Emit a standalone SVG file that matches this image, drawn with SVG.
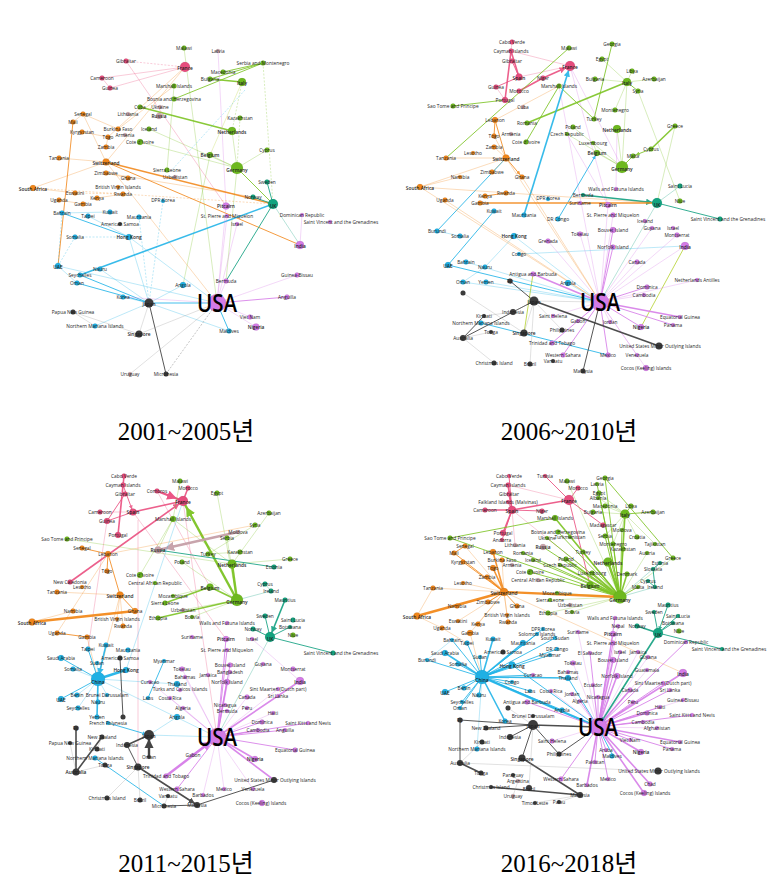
<svg xmlns="http://www.w3.org/2000/svg" width="781" height="884" viewBox="0 0 781 884">
<style>
text{font-family:"Open Sans","Noto Sans",sans-serif;font-size:4.8px;fill:#1e1e1e;text-anchor:middle}
.b{font-weight:600}
.cap{font-family:"Liberation Serif","Noto Sans CJK KR",serif;font-size:25px;fill:#000}
.usa{font-size:25px;font-weight:600;fill:#000}
circle{stroke:#000;stroke-opacity:.2;stroke-width:.3}
.P{fill:#e64d7d}.G{fill:#6db81e}.O{fill:#f0861a}.B{fill:#1fb0e4}.T{fill:#13a37f}.V{fill:#d47be6}.K{fill:#3c3c3c}.R{fill:#c9a3ab}
.e{fill:none;stroke-width:.6;opacity:.5}
.w1{stroke-width:1;opacity:.85}.w2{stroke-width:1.6;opacity:.9}.w3{stroke-width:2.4;opacity:.95}
.d{stroke-dasharray:2 1.5}
.cP{stroke:#ea4f80}.cG{stroke:#7cc324}.cO{stroke:#f28a1e}.cB{stroke:#22b4e8}.cT{stroke:#12a080}.cV{stroke:#d67de8}.cK{stroke:#3a3a3a}.cR{stroke:#c6a0a8}.cY{stroke:#b8d43a}.cL{stroke:#9a9a9a}
.aP{marker-end:url(#mP)}.aG{marker-end:url(#mG)}.aO{marker-end:url(#mO)}.aB{marker-end:url(#mB)}.aT{marker-end:url(#mT)}.aV{marker-end:url(#mV)}.aK{marker-end:url(#mK)}.aR{marker-end:url(#mR)}
</style>
<defs>
<marker id="mP" viewBox="0 0 10 10" refX="17" refY="5" markerWidth="4" markerHeight="4" orient="auto"><path d="M0 0L10 5L0 10z" fill="#ea4f80"/></marker>
<marker id="mG" viewBox="0 0 10 10" refX="17" refY="5" markerWidth="4" markerHeight="4" orient="auto"><path d="M0 0L10 5L0 10z" fill="#7cc324"/></marker>
<marker id="mO" viewBox="0 0 10 10" refX="17" refY="5" markerWidth="4" markerHeight="4" orient="auto"><path d="M0 0L10 5L0 10z" fill="#f28a1e"/></marker>
<marker id="mB" viewBox="0 0 10 10" refX="17" refY="5" markerWidth="4" markerHeight="4" orient="auto"><path d="M0 0L10 5L0 10z" fill="#22b4e8"/></marker>
<marker id="mT" viewBox="0 0 10 10" refX="17" refY="5" markerWidth="4" markerHeight="4" orient="auto"><path d="M0 0L10 5L0 10z" fill="#12a080"/></marker>
<marker id="mV" viewBox="0 0 10 10" refX="17" refY="5" markerWidth="4" markerHeight="4" orient="auto"><path d="M0 0L10 5L0 10z" fill="#d67de8"/></marker>
<marker id="mK" viewBox="0 0 10 10" refX="14" refY="5" markerWidth="4" markerHeight="4" orient="auto"><path d="M0 0L10 5L0 10z" fill="#3a3a3a"/></marker>
<marker id="mR" viewBox="0 0 10 10" refX="17" refY="5" markerWidth="4" markerHeight="4" orient="auto"><path d="M0 0L10 5L0 10z" fill="#c6a0a8"/></marker>
</defs>
<rect width="781" height="884" fill="#fff"/>

<g id="connectors">
<g id="a-edges">
<path class="e cG w1" d="M210 79L263 63M223 72L263 63M174 99L263 63M237 168L273 204"/>
<path class="e cG w2" d="M140 107L232 131M210 79L242 82"/>
<path class="e cG" d="M184 48L217 303M149 129L237 168M140 142L237 168M232 131L237 168M210 155L237 168M267 150L237 168M237 168L226 281M210 155L183 285M174 86L167 170"/>
<path class="e cG d" d="M242 82L232 131M240 118L237 168M263 63L273 204"/>
<path class="e cY" d="M242 82L210 155"/>
<path class="e cP d" d="M126 61L185 67"/>
<path class="e cP" d="M102 78L185 67M126 61L226 206M185 67L110 88M110 88L102 78"/>
<path class="e cV" d="M218 51L226 206"/>
<path class="e cO" d="M185 67L108 137M185 67L106 162M174 86L118 129M83 114L106 162M83 114L118 129M82 132L108 137M33 188L106 162M59 200L83 204M106 173L128 178M108 137L106 147M106 162L217 303M59 158L106 162M106 173L253 197M97 198L123 194M75 193L33 188M83 114L73 122"/>
<path class="e cO d" d="M33 188L273 204M75 193L123 194"/>
<path class="e cO w2" d="M106 162L273 204"/>
<path class="e cO w1" d="M106 162L300 245M73 122L58 266"/>
<path class="e cB w2" d="M80 275L273 204"/>
<path class="e cB w1" d="M62 213L129 237M149 303L217 303M77 283L149 303M80 275L149 303M217 303L229 331"/>
<path class="e cB" d="M88 216L129 237M129 237L217 303M129 237L149 303M100 269L149 303M123 297L149 303M149 303L229 331M183 285L149 303M95 326L149 303M58 266L217 303M110 212L62 213M58 266L77 283"/>
<path class="e cB d" d="M75 237L58 266M62 213L58 266M139 217L149 303M75 237L129 237M163 201L149 303M245 90L170 172"/>
<path class="e cT w1" d="M273 204L226 281M267 182L273 204M253 197L273 204"/>
<path class="e cT" d="M273 204L300 245"/>
<path class="e cV w1" d="M217 303L287 297"/>
<path class="e cV" d="M217 303L297 275M217 303L250 317M217 303L256 327M226 206L217 303M302 215L300 245M227 216L217 303M237 224L217 303M226 281L217 303M123 297L217 303"/>
<path class="e cK w1" d="M149 303L166 374"/>
<path class="e cK d" d="M166 374L217 303"/>
<path class="e cL" d="M139 334L149 303M73 312L139 334M130 374L217 303M139 334L217 303M73 312L95 326"/>
</g>

<g id="b-edges">
<path class="e cP w2" d="M511 51L519 77M511 51L505 100M519 91L543 78"/>
<path class="e cP w2 aP" d="M543 78L570 66"/>
<path class="e cP w1" d="M512 61L519 77M496 87L519 77"/>
<path class="e cP" d="M512 42L511 51M511 51L570 66M519 77L570 66M505 100L496 87"/>
<path class="e cV" d="M570 66L622 167M570 66L608 205M559 86L600 302"/>
<path class="e cG w1" d="M453 106L505 100M569 48L446 158M612 44L594 119M627 82L638 91M633 156L622 167M559 86L594 119M559 86L526 142"/>
<path class="e cG w2" d="M527 123L627 82M675 126L651 149"/>
<path class="e cG w1 aG" d="M651 149L633 156"/>
<path class="e cG" d="M638 91L680 201M602 59L627 82M632 71L627 82M654 79L627 82M595 79L627 82M617 129L622 167M597 153L622 167M593 143L597 153M573 127L622 167M627 82L622 167M615 110L627 82M675 126L657 203M567 134L622 167"/>
<path class="e cY w1" d="M641 327L685 246M524 333L533 274"/>
<path class="e cB w2 aB" d="M524 215L570 66"/>
<path class="e cB w1 aB" d="M437 231L506 158M448 265L494 211M558 219L597 153"/>
<path class="e cB w1" d="M448 265L600 302M481 323L608 355"/>
<path class="e cB" d="M466 262L600 302M463 282L600 302M486 282L600 302M514 236L600 302M568 283L600 302M460 236L437 231M519 254L685 246M485 267L463 282M514 236L485 267"/>
<path class="e cT w2 aT" d="M583 195L657 203"/>
<path class="e cT w1" d="M657 203L720 219"/>
<path class="e cT" d="M680 186L657 203M657 203L600 302"/>
<path class="e cO w2" d="M480 203L657 203"/>
<path class="e cO w1" d="M485 196L506 193M506 158L495 120M495 120L494 136"/>
<path class="e cO w1 aO" d="M506 158L522 177"/>
<path class="e cO" d="M420 187L600 302M420 187L506 158M445 200L600 302M492 172L506 158M420 187L657 203M494 136L506 158M494 147L506 158M506 158L600 302M522 177L600 302M446 158L506 158M460 177L420 187M495 120L559 86"/>
<path class="e cV w2" d="M600 302L680 317M533 274L600 302"/>
<path class="e cV w1" d="M600 302L673 325M600 302L641 327M600 302L647 287M600 302L552 343M600 302L563 355M600 302L608 355M600 302L613 247M600 302L613 230"/>
<path class="e cV" d="M600 302L644 295M600 302L697 280M600 302L553 316M600 302L578 321M600 302L610 322M600 302L608 205M600 302L613 215M600 302L580 234M600 302L548 241M600 302L637 262M600 302L677 235M600 302L685 246M600 302L652 228M600 302L637 355M600 302L646 368M608 205L567 134M616 189L617 129"/>
<path class="e cK w2" d="M534 301L659 346"/>
<path class="e cK w1 aK" d="M510 281L534 301M583 371L600 302"/>
<path class="e cK w1" d="M534 301L463 338M463 338L484 316"/>
<path class="e cL" d="M534 301L513 312M513 312L484 316M562 330L534 301M524 333L534 301M463 293L524 333M494 363L463 338M530 364L534 301M491 332L463 338M534 301L600 302"/>
</g>

<g id="c-edges">
<path class="e cP w2" d="M124 476L118 535M123 485L118 535M188 488L183 501M133 512L183 501"/>
<path class="e cP w3 aP" d="M157 491L183 501"/>
<path class="e cP w2 aP" d="M70 582L183 501"/>
<path class="e cP w1 aP" d="M125 494L107 521M123 485L133 512"/>
<path class="e cP w1" d="M107 521L133 512"/>
<path class="e cP" d="M100 512L133 512M138 520L138 767M133 512L226 639M183 501L217 737M157 491L210 587M107 521L88 649"/>
<path class="e cG w3 aG" d="M237 600L183 501"/>
<path class="e cG w3" d="M232 564L237 600"/>
<path class="e cG w2" d="M237 600L210 587M165 603L210 587M158 618L237 600"/>
<path class="e cG" d="M173 519L158 550M173 519L140 575M217 493L237 600M67 539L232 564M173 519L232 564M269 513L232 564M180 481L173 519M255 525L208 554M240 552L208 554M290 559L232 564M182 562L237 600M173 596L210 587M227 538L237 600M192 617L237 600M183 610L237 600"/>
<path class="e cR w3 aR" d="M238 532L158 550"/>
<path class="e cT w1" d="M158 550L274 567M265 616L270 637M270 637L333 653M290 627L270 637M253 629L270 637"/>
<path class="e cT w2 aT" d="M285 600L270 637"/>
<path class="e cT" d="M270 637L217 737M271 591L265 584M237 600L271 591"/>
<path class="e cO w3" d="M32 622L135 611"/>
<path class="e cO w1" d="M120 595L135 611M120 595L108 554M82 548L108 554M108 554L107 571M57 633L87 637"/>
<path class="e cO" d="M255 525L108 554M87 637L98 679M120 595L117 619M123 626L120 595M57 592L120 595M120 595L98 679M73 611L32 622M108 554L57 633"/>
<path class="e cB w3" d="M126 670L98 679"/>
<path class="e cB w2 aB" d="M106 645L98 679"/>
<path class="e cB w2" d="M97 717L98 679"/>
<path class="e cB w1" d="M88 649L98 679M61 658L98 679M61 699L98 679M164 661L148 698M95 758L164 806"/>
<path class="e cB w1 aB" d="M108 723L149 735"/>
<path class="e cB" d="M73 669L98 679M77 695L98 679M98 702L98 679M107 695L98 679M78 708L98 679M97 663L98 679M177 684L98 679M183 501L126 670M98 679L217 737M149 735L217 737M177 717L149 735"/>
<path class="e cV w3 aV" d="M166 776L217 737"/>
<path class="e cV w2" d="M193 755L217 737M255 759L217 737M300 681L217 737M227 682L217 737"/>
<path class="e cV w2 aV" d="M274 780L217 737"/>
<path class="e cV w1" d="M177 789L217 737M262 722L217 737M308 723L217 737M258 730L217 737M285 730L217 737M295 750L217 737M226 639L217 737M227 650L217 737M230 665L217 737"/>
<path class="e cV" d="M230 672L217 737M247 697L217 737M183 708L217 737M224 789L217 737M253 789L217 737M252 639L300 681M182 669L217 737M185 677L217 737M150 682L217 737M170 698L217 737M203 795L217 737M278 689L217 737M273 713L217 737"/>
<path class="e cK w2 aK" d="M76 728L76 772M102 737L76 772M127 745L149 735M138 767L197 805"/>
<path class="e cK w3 aK" d="M149 757L149 735"/>
<path class="e cK w1" d="M197 805L274 780M164 806L197 805M138 767L127 745M120 658L123 717"/>
<path class="e cL" d="M105 765L76 772M97 749L102 737M107 798L138 767M140 800L138 767M168 796L164 806M70 743L76 772"/>
</g>

<g id="d-edges">
<path class="e cP w2" d="M503 533L512 510M485 510L512 510M509 494L512 510M508 485L512 510M512 510L569 500"/>
<path class="e cP w1" d="M502 540L512 510M508 502L512 510M509 476L512 510M542 511L512 510M569 500L545 476M569 500L603 525M578 488L569 500M569 500L590 585"/>
<path class="e cP" d="M515 545L512 510M569 500L508 485M512 510L620 597"/>
<path class="e cG w3" d="M608 562L620 597M590 585L620 597"/>
<path class="e cG w2" d="M592 573L620 597M566 559L620 597M560 565L620 597M625 514L620 597M555 518L620 597M627 574L620 597"/>
<path class="e cG w1" d="M583 552L620 597M543 547L620 597M605 536L620 597M605 478L620 597M597 484L620 597M599 493L620 597M558 532L620 597M547 538L620 597M533 560L620 597M530 572L620 597M450 538L620 597M523 553L620 597M638 587L620 597M623 549L620 597M613 544L620 597M622 530L620 597M605 478L673 558M631 506L625 514M653 512L625 514M450 538L555 518"/>
<path class="e cG" d="M673 558L620 597M647 553L620 597M637 537L625 514M598 498L625 514M605 506L625 514M599 493L625 514M605 536L625 514M613 544L625 514M622 530L625 514M557 593L620 597M550 600L620 597M548 613L620 597M572 612L620 597M593 512L625 514M655 544L625 514M570 537L620 597M567 481L620 597"/>
<path class="e cT w1" d="M660 563L653 569M653 569L655 587M648 581L655 587M673 623L658 633M678 616L658 633M658 633L722 649M654 612L658 633"/>
<path class="e cT w1 aT" d="M668 605L658 633"/>
<path class="e cT w2 aT" d="M637 626L658 633M658 633L598 727"/>
<path class="e cT" d="M620 597L660 563M620 597L655 587"/>
<path class="e cO w3" d="M417 616L504 592M504 592L620 597"/>
<path class="e cO w2" d="M493 552L504 592M493 568L504 592M487 577L504 592"/>
<path class="e cO w1" d="M517 606L504 592M488 602L504 592M463 562L504 592M454 553L465 546M454 553L504 592"/>
<path class="e cO" d="M465 546L504 592M433 588L504 592M457 606L504 592M507 615L504 592M508 622L504 592M478 624L504 592M470 633L504 592M458 621L504 592M502 560L504 592M463 583L504 592M417 616L442 628M433 588L417 616M442 628L467 643M470 633L482 677M504 592L683 673"/>
<path class="e cB w3" d="M512 665L482 677M482 677L598 727"/>
<path class="e cB w2" d="M493 639L482 677M445 653L482 677M523 643L482 677M568 678L482 677M505 721L482 677"/>
<path class="e cB w1" d="M467 643L482 677M427 660L482 677M458 664L482 677M445 692L482 677M464 688L482 677M479 695L482 677M462 702L482 677M460 708L482 677M543 629L482 677M537 634L482 677M550 655L482 677M557 649L482 677M533 675L482 677M512 682L482 677M452 640L482 677M480 657L482 677M530 691L482 677M555 638L482 677M562 710L482 677M568 678L598 727M512 665L598 727M612 754L598 727"/>
<path class="e cB" d="M477 749L482 677M452 640L427 660"/>
<path class="e cV w2" d="M613 660L598 727M617 676L598 727M630 690L598 727M647 713L598 727M680 742L598 727M641 752L598 727M587 785L598 727M650 784L598 727M644 793L598 727M683 673L598 727"/>
<path class="e cV w1" d="M613 634L598 727M613 643L598 727M598 697L598 727M633 702L598 727M580 701L598 727M527 702L598 727M692 715L598 727M643 722L598 727M630 740L598 727M672 749L598 727M606 750L598 727M595 761L598 727M608 779L598 727M561 779L598 727M620 652L598 727M663 683L598 727M670 690L598 727M660 707L598 727M590 653L598 727M615 618L598 727M686 642L598 727"/>
<path class="e cV" d="M573 663L598 727M647 670L598 727M593 685L598 727M572 694L598 727M551 691L598 727M657 728L598 727M552 741L598 727M638 652L598 727M648 657L598 727M683 700L598 727M578 632L598 727M618 626L598 727"/>
<path class="e cK w2" d="M533 725L598 727M522 758L580 795M491 787L580 795M460 763L481 773"/>
<path class="e cK w1" d="M460 720L460 763M533 725L559 754M559 754L598 727M533 725L510 737M486 728L533 725M460 720L533 725M522 758L533 725"/>
<path class="e cL" d="M533 725L529 788M460 763L658 771M513 775L518 781M518 781L513 796M535 803L580 795M559 802L580 795M482 742L460 763M508 708L533 725"/>
</g>
</g>

<g id="panel-2001-2005">
<g id="a-malawi"><circle class="G" cx="184" cy="48" r="2.5"/><text x="184" y="49.7">Malawi</text></g>
<g id="a-latvia"><circle class="R" cx="218" cy="51" r="2"/><text x="218" y="52.7">Latvia</text></g>
<g id="a-france"><circle class="P" cx="185" cy="67" r="5"/><text x="185" y="70.3" font-size="9.5" class="b">France</text></g>
<g id="a-gibraltar"><circle class="P" cx="126" cy="61" r="2.5"/><text x="126" y="62.7">Gibraltar</text></g>
<g id="a-serbia"><circle class="G" cx="263" cy="63" r="2.5"/><text x="263" y="64.7">Serbia and Montenegro</text></g>
<g id="a-macedonia"><circle class="G" cx="223" cy="72" r="2.5"/><text x="223" y="73.7">Macedonia</text></g>
<g id="a-bulgaria"><circle class="G" cx="210" cy="79" r="2.5"/><text x="210" y="80.7">Bulgaria</text></g>
<g id="a-italy"><circle class="G" cx="242" cy="82" r="4"/><text x="242" y="84.8" font-size="8" class="b">Italy</text></g>
<g id="a-cameroon"><circle class="P" cx="102" cy="78" r="2.5"/><text x="102" y="79.7">Cameroon</text></g>
<g id="a-guinea"><circle class="P" cx="110" cy="88" r="2.5"/><text x="110" y="89.7">Guinea</text></g>
<g id="a-marshall"><circle class="G" cx="174" cy="86" r="2.5"/><text x="174" y="87.7">Marshall Islands</text></g>
<g id="a-bosnia"><circle class="G" cx="174" cy="99" r="2.5"/><text x="174" y="100.7">Bosnia and Herzegovina</text></g>
<g id="a-cuba"><circle class="G" cx="140" cy="107" r="2.5"/><text x="140" y="108.7">Cuba</text></g>
<g id="a-ukraine"><circle class="R" cx="160" cy="107" r="2"/><text x="160" y="108.7">Ukraine</text></g>
<g id="a-lithuania"><circle class="R" cx="128" cy="114" r="2"/><text x="128" y="115.7">Lithuania</text></g>
<g id="a-russia"><circle class="R" cx="159" cy="116" r="3"/><text x="159" y="118.3" font-size="6.5" class="b">Russia</text></g>
<g id="a-senegal"><circle class="O" cx="83" cy="114" r="2.5"/><text x="83" y="115.7">Senegal</text></g>
<g id="a-mali"><circle class="O" cx="73" cy="122" r="2.5"/><text x="73" y="123.7">Mali</text></g>
<g id="a-kyrgyzstan"><circle class="O" cx="82" cy="132" r="2.5"/><text x="82" y="133.7">Kyrgyzstan</text></g>
<g id="a-burkina"><circle class="O" cx="118" cy="129" r="2.5"/><text x="118" y="130.7">Burkina Faso</text></g>
<g id="a-armenia"><circle class="R" cx="125" cy="135" r="2"/><text x="125" y="136.7">Armenia</text></g>
<g id="a-iceland"><circle class="G" cx="149" cy="129" r="2.5"/><text x="149" y="130.7">Iceland</text></g>
<g id="a-kazakhstan"><circle class="G" cx="240" cy="118" r="2.5"/><text x="240" y="119.7">Kazakhstan</text></g>
<g id="a-netherlands"><circle class="G" cx="232" cy="131" r="4"/><text x="232" y="134" font-size="8.5" class="b">Netherlands</text></g>
<g id="a-togo"><circle class="O" cx="108" cy="137" r="2.5"/><text x="108" y="139.3" font-size="6.5">Togo</text></g>
<g id="a-cote"><circle class="G" cx="140" cy="142" r="3"/><text x="140" y="144.3" font-size="6.5">Cote d'Ivoire</text></g>
<g id="a-zambia"><circle class="O" cx="106" cy="147" r="2.5"/><text x="106" y="148.7">Zambia</text></g>
<g id="a-cyprus"><circle class="G" cx="267" cy="150" r="2.5"/><text x="267" y="151.7">Cyprus</text></g>
<g id="a-tanzania"><circle class="O" cx="59" cy="158" r="2.5"/><text x="59" y="159.7">Tanzania</text></g>
<g id="a-switzerland"><circle class="O" cx="106" cy="162" r="3.5"/><text x="106" y="165" font-size="8.5" class="b">Switzerland</text></g>
<g id="a-belgium"><circle class="G" cx="210" cy="155" r="3"/><text x="210" y="157.3" font-size="6.5" class="b">Belgium</text></g>
<g id="a-germany"><circle class="G" cx="237" cy="168" r="6"/><text x="237" y="172.4" font-size="12.5" class="b">Germany</text></g>
<g id="a-sierra"><circle class="G" cx="167" cy="170" r="2.5"/><text x="167" y="171.7">Sierra Leone</text></g>
<g id="a-uzbekistan"><circle class="R" cx="175" cy="177" r="2"/><text x="175" y="178.7">Uzbekistan</text></g>
<g id="a-zimbabwe"><circle class="O" cx="106" cy="173" r="2.5"/><text x="106" y="174.7">Zimbabwe</text></g>
<g id="a-ghana"><circle class="O" cx="128" cy="178" r="2.5"/><text x="128" y="179.7">Ghana</text></g>
<g id="a-southafrica"><circle class="O" cx="33" cy="188" r="3"/><text x="33" y="190.5" font-size="7" class="b">South Africa</text></g>
<g id="a-bvi"><circle class="O" cx="118" cy="187" r="2"/><text x="118" y="188.7">British Virgin Islands</text></g>
<g id="a-eswatini"><circle class="O" cx="75" cy="193" r="2.5"/><text x="75" y="194.7">Eswatini</text></g>
<g id="a-rwanda"><circle class="O" cx="123" cy="194" r="2.5"/><text x="123" y="196" font-size="5.5">Rwanda</text></g>
<g id="a-uganda"><circle class="O" cx="59" cy="200" r="2.5"/><text x="59" y="201.7">Uganda</text></g>
<g id="a-kenya"><circle class="O" cx="97" cy="198" r="2.5"/><text x="97" y="199.7">Kenya</text></g>
<g id="a-gambia"><circle class="O" cx="83" cy="204" r="2.5"/><text x="83" y="205.7">Gambia</text></g>
<g id="a-dprk"><circle class="B" cx="163" cy="201" r="2"/><text x="163" y="202.4" font-size="4">DPR Korea</text></g>
<g id="a-sweden"><circle class="T" cx="267" cy="182" r="2.5"/><text x="267" y="183.7">Sweden</text></g>
<g id="a-norway"><circle class="T" cx="253" cy="197" r="2.5"/><text x="253" y="198.6" font-size="4.5">Norway</text></g>
<g id="a-uk"><circle class="T" cx="273" cy="204" r="5"/><text x="273" y="208.2" font-size="12" class="b">UK</text></g>
<g id="a-pitcairn"><circle class="V" cx="226" cy="206" r="3.5"/><text x="226" y="208.3" font-size="6.5" class="b">Pitcairn</text></g>
<g id="a-stpierre"><circle class="V" cx="227" cy="216" r="2"/><text x="227" y="218" font-size="5.5">St. Pierre and Miquelon</text></g>
<g id="a-israel"><circle class="V" cx="237" cy="224" r="2"/><text x="237" y="225.6" font-size="4.5">Israel</text></g>
<g id="a-dominicanrep"><circle class="V" cx="302" cy="215" r="2"/><text x="302" y="216.7">Dominican Republic</text></g>
<g id="a-stvincent"><circle class="V" cx="330" cy="222" r="2"/><text x="341" y="224" font-size="5">Saint Vincent and the Grenadines</text></g>
<g id="a-bahrain"><circle class="B" cx="62" cy="213" r="2.5"/><text x="62" y="214.7">Bahrain</text></g>
<g id="a-taipei"><circle class="B" cx="88" cy="216" r="2.5"/><text x="88" y="217.7">Taipei</text></g>
<g id="a-kuwait"><circle class="B" cx="110" cy="212" r="2.5"/><text x="110" y="213.7">Kuwait</text></g>
<g id="a-mauritania"><circle class="B" cx="139" cy="217" r="2.5"/><text x="139" y="218.7">Mauritania</text></g>
<g id="a-amsamoa"><circle class="K" cx="120" cy="224" r="2"/><text x="120" y="225.7">American Samoa</text></g>
<g id="a-somalia"><circle class="B" cx="75" cy="237" r="2.5"/><text x="75" y="238.7">Somalia</text></g>
<g id="a-hongkong"><circle class="B" cx="129" cy="237" r="3"/><text x="129" y="239.3" font-size="6.5" class="b">Hong Kong</text></g>
<g id="a-india"><circle class="V" cx="300" cy="245" r="4"/><text x="300" y="248" font-size="8.5" class="b">India</text></g>
<g id="a-uae"><circle class="B" cx="58" cy="266" r="3"/><text x="58" y="268.5" font-size="7" class="b">UAE</text></g>
<g id="a-nauru"><circle class="B" cx="100" cy="269" r="2.5"/><text x="100" y="270.7">Nauru</text></g>
<g id="a-seychelles"><circle class="B" cx="80" cy="275" r="2.5"/><text x="80" y="276.7">Seychelles</text></g>
<g id="a-oman"><circle class="B" cx="77" cy="283" r="2.5"/><text x="77" y="284.7">Oman</text></g>
<g id="a-angola"><circle class="B" cx="183" cy="285" r="3"/><text x="183" y="287" font-size="5.5">Angola</text></g>
<g id="a-bermuda"><circle class="V" cx="226" cy="281" r="2.5"/><text x="226" y="282.7">Bermuda</text></g>
<g id="a-guineabissau"><circle class="V" cx="297" cy="275" r="2.5"/><text x="297" y="276.7">Guinea-Bissau</text></g>
<g id="a-korea"><circle class="B" cx="123" cy="297" r="2.5"/><text x="123" y="298.7">Korea</text></g>
<g id="a-japan"><circle class="K" cx="149" cy="303" r="4.5"/><text x="149" y="306" font-size="8.5" class="b">Japan</text></g>
<g id="a-usa"><circle class="V" cx="217" cy="303" r="9"/><text x="217" y="312" class="usa" textLength="40" lengthAdjust="spacingAndGlyphs">USA</text></g>
<g id="a-anguilla"><circle class="V" cx="287" cy="297" r="2.5"/><text x="287" y="298.7">Anguilla</text></g>
<g id="a-png"><circle class="K" cx="73" cy="312" r="2.5"/><text x="73" y="313.7">Papua New Guinea</text></g>
<g id="a-vietnam"><circle class="V" cx="250" cy="317" r="2.5"/><text x="250" y="318.7">Viet Nam</text></g>
<g id="a-nigeria"><circle class="V" cx="256" cy="327" r="3.5"/><text x="256" y="329.3" font-size="6.5" class="b">Nigeria</text></g>
<g id="a-maldives"><circle class="B" cx="229" cy="331" r="2.5"/><text x="229" y="332.7">Maldives</text></g>
<g id="a-nmi"><circle class="B" cx="95" cy="326" r="2.5"/><text x="95" y="328" font-size="5.5">Northern Mariana Islands</text></g>
<g id="a-singapore"><circle class="K" cx="139" cy="334" r="3.5"/><text x="139" y="336.3" font-size="6.5" class="b">Singapore</text></g>
<g id="a-uruguay"><circle class="R" cx="130" cy="374" r="2"/><text x="130" y="375.7">Uruguay</text></g>
<g id="a-micronesia"><circle class="K" cx="166" cy="374" r="2.5"/><text x="166" y="375.7">Micronesia</text></g>
</g>

<g id="panel-2006-2010">
<g id="b-caboverde"><circle class="P" cx="512" cy="42" r="2.5"/><text x="512" y="43.7">Cabo Verde</text></g>
<g id="b-cayman"><circle class="P" cx="511" cy="51" r="2.5"/><text x="511" y="53" font-size="5.5">Cayman Islands</text></g>
<g id="b-malawi"><circle class="G" cx="569" cy="48" r="2.5"/><text x="569" y="49.7">Malawi</text></g>
<g id="b-georgia"><circle class="G" cx="612" cy="44" r="2.5"/><text x="612" y="45.7">Georgia</text></g>
<g id="b-gibraltar"><circle class="P" cx="512" cy="61" r="2.5"/><text x="512" y="62.7">Gibraltar</text></g>
<g id="b-egypt"><circle class="G" cx="602" cy="59" r="2.5"/><text x="602" y="60.7">Egypt</text></g>
<g id="b-france"><circle class="P" cx="570" cy="66" r="5"/><text x="570" y="69.3" font-size="9.5" class="b">France</text></g>
<g id="b-libya"><circle class="G" cx="632" cy="71" r="2.5"/><text x="632" y="72.7">Libya</text></g>
<g id="b-spain"><circle class="P" cx="519" cy="77" r="3.5"/><text x="519" y="79.5" font-size="7" class="b">Spain</text></g>
<g id="b-niger"><circle class="P" cx="543" cy="78" r="2.5"/><text x="543" y="79.7">Niger</text></g>
<g id="b-bulgaria"><circle class="G" cx="595" cy="79" r="2.5"/><text x="595" y="80.7">Bulgaria</text></g>
<g id="b-azerbaijan"><circle class="G" cx="654" cy="79" r="2.5"/><text x="654" y="80.7">Azerbaijan</text></g>
<g id="b-italy"><circle class="G" cx="627" cy="82" r="4"/><text x="627" y="84.8" font-size="8" class="b">Italy</text></g>
<g id="b-marshall"><circle class="G" cx="559" cy="86" r="2.5"/><text x="559" y="87.7">Marshall Islands</text></g>
<g id="b-guinea"><circle class="P" cx="496" cy="87" r="2.5"/><text x="496" y="88.7">Guinea</text></g>
<g id="b-morocco"><circle class="P" cx="519" cy="91" r="2.5"/><text x="519" y="92.7">Morocco</text></g>
<g id="b-syria"><circle class="G" cx="638" cy="91" r="2.5"/><text x="638" y="92.7">Syria</text></g>
<g id="b-portugal"><circle class="P" cx="505" cy="100" r="3"/><text x="505" y="102" font-size="5.5">Portugal</text></g>
<g id="b-saotome"><circle class="G" cx="453" cy="106" r="2.5"/><text x="453" y="107.7">Sao Tome and Principe</text></g>
<g id="b-cuba"><circle class="R" cx="523" cy="107" r="2"/><text x="523" y="108.7">Cuba</text></g>
<g id="b-montenegro"><circle class="G" cx="615" cy="110" r="2.5"/><text x="615" y="111.7">Montenegro</text></g>
<g id="b-turkey"><circle class="G" cx="594" cy="119" r="2.5"/><text x="594" y="121" font-size="5.5">Turkey</text></g>
<g id="b-lebanon"><circle class="O" cx="495" cy="120" r="3"/><text x="495" y="122.1" font-size="6">Lebanon</text></g>
<g id="b-romania"><circle class="G" cx="527" cy="123" r="2.5"/><text x="527" y="124.7">Romania</text></g>
<g id="b-poland"><circle class="G" cx="573" cy="127" r="2.5"/><text x="573" y="128.7">Poland</text></g>
<g id="b-netherlands"><circle class="G" cx="617" cy="129" r="4"/><text x="617" y="132" font-size="8.5" class="b">Netherlands</text></g>
<g id="b-greece"><circle class="G" cx="675" cy="126" r="2.5"/><text x="675" y="127.7">Greece</text></g>
<g id="b-togo"><circle class="O" cx="494" cy="136" r="2.5"/><text x="494" y="137.7">Togo</text></g>
<g id="b-armenia"><circle class="R" cx="511" cy="134" r="2"/><text x="511" y="135.7">Armenia</text></g>
<g id="b-czech"><circle class="G" cx="567" cy="134" r="2"/><text x="567" y="135.7">Czech Republic</text></g>
<g id="b-cote"><circle class="G" cx="526" cy="142" r="2.5"/><text x="526" y="144" font-size="5.5">Cote d'Ivoire</text></g>
<g id="b-zambia"><circle class="O" cx="494" cy="147" r="2.5"/><text x="494" y="148.7">Zambia</text></g>
<g id="b-luxembourg"><circle class="G" cx="593" cy="143" r="2"/><text x="593" y="144.7">Luxembourg</text></g>
<g id="b-lesotho"><circle class="O" cx="473" cy="153" r="2"/><text x="473" y="154.7">Lesotho</text></g>
<g id="b-tanzania"><circle class="O" cx="446" cy="158" r="2.5"/><text x="446" y="159.7">Tanzania</text></g>
<g id="b-switzerland"><circle class="O" cx="506" cy="158" r="3.5"/><text x="506" y="161" font-size="8.5" class="b">Switzerland</text></g>
<g id="b-belgium"><circle class="G" cx="597" cy="153" r="3"/><text x="597" y="155.1" font-size="6" class="b">Belgium</text></g>
<g id="b-malta"><circle class="G" cx="633" cy="156" r="2.5"/><text x="633" y="157.7">Malta</text></g>
<g id="b-cyprus"><circle class="G" cx="651" cy="149" r="2.5"/><text x="651" y="150.7">Cyprus</text></g>
<g id="b-germany"><circle class="G" cx="622" cy="167" r="6"/><text x="622" y="171.4" font-size="12.5" class="b">Germany</text></g>
<g id="b-zimbabwe"><circle class="O" cx="492" cy="172" r="2.5"/><text x="492" y="173.7">Zimbabwe</text></g>
<g id="b-namibia"><circle class="O" cx="460" cy="177" r="2"/><text x="460" y="178.7">Namibia</text></g>
<g id="b-ghana"><circle class="O" cx="522" cy="177" r="2.5"/><text x="522" y="178.7">Ghana</text></g>
<g id="b-southafrica"><circle class="O" cx="420" cy="187" r="3"/><text x="420" y="189.5" font-size="7" class="b">South Africa</text></g>
<g id="b-wallis"><circle class="V" cx="616" cy="189" r="2"/><text x="616" y="191" font-size="5.5">Walls and Futuna Islands</text></g>
<g id="b-saintlucia"><circle class="T" cx="680" cy="186" r="2.5"/><text x="680" y="187.7">Saint Lucia</text></g>
<g id="b-rwanda"><circle class="O" cx="506" cy="193" r="2.5"/><text x="506" y="194.7">Rwanda</text></g>
<g id="b-kenya"><circle class="O" cx="485" cy="196" r="2.5"/><text x="485" y="197.7">Kenya</text></g>
<g id="b-bermuda"><circle class="T" cx="583" cy="195" r="2"/><text x="583" y="196.7">Bermuda</text></g>
<g id="b-uganda"><circle class="O" cx="445" cy="200" r="2.5"/><text x="445" y="201.7">Uganda</text></g>
<g id="b-gambia"><circle class="O" cx="480" cy="203" r="2.5"/><text x="480" y="205" font-size="5.5">Gambia</text></g>
<g id="b-dprk"><circle class="B" cx="548" cy="199" r="2"/><text x="548" y="200.4" font-size="4">DPR Korea</text></g>
<g id="b-suriname"><circle class="V" cx="580" cy="203" r="2"/><text x="580" y="204.7">Suriname</text></g>
<g id="b-pitcairn"><circle class="V" cx="608" cy="205" r="3"/><text x="608" y="207.3" font-size="6.5" class="b">Pitcairn</text></g>
<g id="b-uk"><circle class="T" cx="657" cy="203" r="5"/><text x="657" y="207.2" font-size="12" class="b">UK</text></g>
<g id="b-niue"><circle class="G" cx="680" cy="201" r="2.5"/><text x="680" y="202.7">Niue</text></g>
<g id="b-kuwait"><circle class="B" cx="494" cy="211" r="2.5"/><text x="494" y="212.7">Kuwait</text></g>
<g id="b-mauritania"><circle class="B" cx="524" cy="215" r="2.5"/><text x="524" y="216.7">Mauritania</text></g>
<g id="b-drcongo"><circle class="B" cx="558" cy="219" r="2.5"/><text x="558" y="220.7">DR Congo</text></g>
<g id="b-stpierre"><circle class="V" cx="613" cy="215" r="2.5"/><text x="613" y="217" font-size="5.5">St. Pierre and Miquelon</text></g>
<g id="b-iceland"><circle class="V" cx="645" cy="221" r="2"/><text x="645" y="222.7">Iceland</text></g>
<g id="b-stvincent"><circle class="T" cx="720" cy="219" r="2.5"/><text x="728" y="221" font-size="5.5">Saint Vincent and the Grenadines</text></g>
<g id="b-burundi"><circle class="B" cx="437" cy="231" r="2.5"/><text x="437" y="232.7">Burundi</text></g>
<g id="b-somalia"><circle class="B" cx="460" cy="236" r="2.5"/><text x="460" y="237.7">Somalia</text></g>
<g id="b-hongkong"><circle class="B" cx="514" cy="236" r="3"/><text x="514" y="238.3" font-size="6.5" class="b">Hong Kong</text></g>
<g id="b-grenada"><circle class="V" cx="548" cy="241" r="2.5"/><text x="548" y="242.7">Grenada</text></g>
<g id="b-tokelau"><circle class="V" cx="580" cy="234" r="2.5"/><text x="580" y="235.7">Tokelau</text></g>
<g id="b-bouvet"><circle class="V" cx="613" cy="230" r="3"/><text x="613" y="232" font-size="5.5">Bouvet Island</text></g>
<g id="b-guyana"><circle class="V" cx="652" cy="228" r="2"/><text x="652" y="229.7">Guyana</text></g>
<g id="b-israel"><circle class="V" cx="673" cy="228" r="2"/><text x="673" y="229.7">Israel</text></g>
<g id="b-montserrat"><circle class="V" cx="677" cy="235" r="2.5"/><text x="677" y="236.7">Montserrat</text></g>
<g id="b-norfolk"><circle class="V" cx="613" cy="247" r="2.5"/><text x="613" y="248.8" font-size="5">Norfolk Island</text></g>
<g id="b-india"><circle class="V" cx="685" cy="246" r="4"/><text x="685" y="249" font-size="8.5" class="b">India</text></g>
<g id="b-congo"><circle class="B" cx="519" cy="254" r="2"/><text x="519" y="255.7">Congo</text></g>
<g id="b-canada"><circle class="V" cx="637" cy="262" r="2.5"/><text x="637" y="263.7">Canada</text></g>
<g id="b-uae"><circle class="B" cx="448" cy="265" r="3"/><text x="448" y="267.5" font-size="7" class="b">UAE</text></g>
<g id="b-bahrain"><circle class="B" cx="466" cy="262" r="2.5"/><text x="466" y="263.7">Bahrain</text></g>
<g id="b-nauru"><circle class="B" cx="485" cy="267" r="2.5"/><text x="485" y="268.7">Nauru</text></g>
<g id="b-oman"><circle class="B" cx="463" cy="282" r="2.5"/><text x="463" y="283.7">Oman</text></g>
<g id="b-yemen"><circle class="B" cx="486" cy="282" r="2.5"/><text x="486" y="283.7">Yemen</text></g>
<g id="b-antigua"><circle class="V" cx="533" cy="274" r="2.5"/><text x="533" y="276" font-size="5.5">Antigua and Barbuda</text></g>
<g id="b-fiji"><circle class="K" cx="510" cy="281" r="2.5"/><text x="510" y="282.7">Fiji</text></g>
<g id="b-angola"><circle class="B" cx="568" cy="283" r="3"/><text x="568" y="285" font-size="5.5">Angola</text></g>
<g id="b-node1"><circle class="K" cx="463" cy="293" r="2.5"/></g>
<g id="b-japan"><circle class="K" cx="534" cy="301" r="4.5"/><text x="534" y="304" font-size="8.5" class="b">Japan</text></g>
<g id="b-usa"><circle class="V" cx="600" cy="302" r="9"/><text x="600" y="311" class="usa" textLength="40" lengthAdjust="spacingAndGlyphs">USA</text></g>
<g id="b-dominica"><circle class="V" cx="647" cy="287" r="2.5"/><text x="647" y="289" font-size="5.5">Dominica</text></g>
<g id="b-cambodia"><circle class="V" cx="644" cy="295" r="2"/><text x="644" y="296.7">Cambodia</text></g>
<g id="b-antilles"><circle class="V" cx="697" cy="280" r="2"/><text x="697" y="281.7">Netherlands Antilles</text></g>
<g id="b-indonesia"><circle class="K" cx="513" cy="312" r="3"/><text x="513" y="314" font-size="5.5">Indonesia</text></g>
<g id="b-kiribati"><circle class="K" cx="484" cy="316" r="2"/><text x="484" y="317.7">Kiribati</text></g>
<g id="b-sainthelena"><circle class="V" cx="553" cy="316" r="2"/><text x="553" y="317.7">Saint Helena</text></g>
<g id="b-gabon"><circle class="V" cx="578" cy="321" r="2"/><text x="578" y="322.7">Gabon</text></g>
<g id="b-jordan"><circle class="V" cx="610" cy="322" r="2"/><text x="610" y="323.7">Jordan</text></g>
<g id="b-eqguinea"><circle class="V" cx="680" cy="317" r="2"/><text x="680" y="318.7">Equatorial Guinea</text></g>
<g id="b-panama"><circle class="V" cx="673" cy="325" r="2"/><text x="673" y="326.7">Panama</text></g>
<g id="b-nigeria"><circle class="V" cx="641" cy="327" r="3"/><text x="641" y="329.3" font-size="6.5" class="b">Nigeria</text></g>
<g id="b-nmi"><circle class="B" cx="481" cy="323" r="2.5"/><text x="481" y="325" font-size="5.5">Northern Mariana Islands</text></g>
<g id="b-tonga"><circle class="K" cx="491" cy="332" r="2"/><text x="491" y="333.7">Tonga</text></g>
<g id="b-philippines"><circle class="K" cx="562" cy="330" r="2.5"/><text x="562" y="331.7">Philippines</text></g>
<g id="b-singapore"><circle class="K" cx="524" cy="333" r="3.5"/><text x="524" y="335.3" font-size="6.5" class="b">Singapore</text></g>
<g id="b-australia"><circle class="K" cx="463" cy="338" r="3"/><text x="463" y="340" font-size="5.5">Australia</text></g>
<g id="b-trinidad"><circle class="V" cx="552" cy="343" r="2.5"/><text x="552" y="345" font-size="5.5">Trinidad and Tobago</text></g>
<g id="b-usmoi"><circle class="K" cx="659" cy="346" r="3.5"/><text x="660" y="348.1" font-size="6">United States Minor Outlying Islands</text></g>
<g id="b-wsahara"><circle class="V" cx="563" cy="355" r="2.5"/><text x="563" y="357" font-size="5.5">Western Sahara</text></g>
<g id="b-mexico"><circle class="V" cx="608" cy="355" r="2.5"/><text x="608" y="356.7">Mexico</text></g>
<g id="b-venezuela"><circle class="V" cx="637" cy="355" r="2"/><text x="637" y="356.7">Venezuela</text></g>
<g id="b-christmas"><circle class="K" cx="494" cy="363" r="2.5"/><text x="494" y="364.7">Christmas Island</text></g>
<g id="b-brazil"><circle class="K" cx="530" cy="364" r="2.5"/><text x="530" y="366" font-size="5.5">Brazil</text></g>
<g id="b-vanuatu"><circle class="K" cx="553" cy="361" r="2"/><text x="553" y="362.7">Vanuatu</text></g>
<g id="b-malaysia"><circle class="K" cx="583" cy="371" r="2.5"/><text x="583" y="373" font-size="5.5">Malaysia</text></g>
<g id="b-cocos"><circle class="V" cx="646" cy="368" r="3"/><text x="646" y="370" font-size="5.5">Cocos (Keeling) Islands</text></g>
</g>

<g id="panel-2011-2015">
<g id="c-caboverde"><circle class="P" cx="124" cy="476" r="2.5"/><text x="124" y="477.7">Cabo Verde</text></g>
<g id="c-cayman"><circle class="P" cx="123" cy="485" r="2.5"/><text x="123" y="487" font-size="5.5">Cayman Islands</text></g>
<g id="c-malawi"><circle class="G" cx="180" cy="481" r="2.5"/><text x="180" y="482.7">Malawi</text></g>
<g id="c-morocco"><circle class="P" cx="188" cy="488" r="2.5"/><text x="188" y="489.7">Morocco</text></g>
<g id="c-comoros"><circle class="P" cx="157" cy="491" r="2.5"/><text x="157" y="492.7">Comoros</text></g>
<g id="c-egypt"><circle class="G" cx="217" cy="493" r="2.5"/><text x="217" y="494.7">Egypt</text></g>
<g id="c-gibraltar"><circle class="P" cx="125" cy="494" r="2.5"/><text x="125" y="495.7">Gibraltar</text></g>
<g id="c-france"><circle class="P" cx="183" cy="501" r="5"/><text x="183" y="504.3" font-size="9.5" class="b">France</text></g>
<g id="c-cameroon"><circle class="P" cx="100" cy="512" r="2.5"/><text x="100" y="513.7">Cameroon</text></g>
<g id="c-spain"><circle class="P" cx="133" cy="512" r="3.5"/><text x="133" y="514.1" font-size="6" class="b">Spain</text></g>
<g id="c-guinea"><circle class="P" cx="107" cy="521" r="3"/><text x="107" y="523.1" font-size="6">Guinea</text></g>
<g id="c-marshall"><circle class="G" cx="173" cy="519" r="3"/><text x="173" y="521" font-size="5.5">Marshall Islands</text></g>
<g id="c-azerbaijan"><circle class="G" cx="269" cy="513" r="2.5"/><text x="269" y="514.7">Azerbaijan</text></g>
<g id="c-syria"><circle class="G" cx="255" cy="525" r="2.5"/><text x="255" y="526.7">Syria</text></g>
<g id="c-moldova"><circle class="R" cx="238" cy="532" r="2"/><text x="238" y="533.7">Moldova</text></g>
<g id="c-portugal"><circle class="P" cx="118" cy="535" r="3"/><text x="118" y="537" font-size="5.5">Portugal</text></g>
<g id="c-serbia"><circle class="G" cx="227" cy="538" r="2.5"/><text x="227" y="539.7">Serbia</text></g>
<g id="c-saotome"><circle class="G" cx="67" cy="539" r="2.5"/><text x="67" y="540.7">Sao Tome and Principe</text></g>
<g id="c-senegal"><circle class="O" cx="82" cy="548" r="2.5"/><text x="82" y="549.7">Senegal</text></g>
<g id="c-russia"><circle class="R" cx="158" cy="550" r="3.5"/><text x="158" y="552.3" font-size="6.5" class="b">Russia</text></g>
<g id="c-kazakhstan"><circle class="G" cx="240" cy="552" r="2.5"/><text x="240" y="553.7">Kazakhstan</text></g>
<g id="c-turkey"><circle class="G" cx="208" cy="554" r="2.5"/><text x="208" y="556" font-size="5.5">Turkey</text></g>
<g id="c-lebanon"><circle class="O" cx="108" cy="554" r="3"/><text x="108" y="556.1" font-size="6">Lebanon</text></g>
<g id="c-greece"><circle class="G" cx="290" cy="559" r="2.5"/><text x="290" y="560.7">Greece</text></g>
<g id="c-poland"><circle class="G" cx="182" cy="562" r="2.5"/><text x="182" y="563.7">Poland</text></g>
<g id="c-netherlands"><circle class="G" cx="232" cy="564" r="4.5"/><text x="232" y="567" font-size="8.5" class="b">Netherlands</text></g>
<g id="c-estonia"><circle class="T" cx="274" cy="567" r="2.5"/><text x="274" y="568.7">Estonia</text></g>
<g id="c-togo"><circle class="O" cx="107" cy="571" r="2.5"/><text x="107" y="573" font-size="5.5">Togo</text></g>
<g id="c-cote"><circle class="G" cx="140" cy="575" r="3"/><text x="140" y="577.1" font-size="6">Cote d'Ivoire</text></g>
<g id="c-newcaledonia"><circle class="P" cx="70" cy="582" r="2.5"/><text x="70" y="583.7">New Caledonia</text></g>
<g id="c-lesotho"><circle class="O" cx="82" cy="587" r="2"/><text x="82" y="588.7">Lesotho</text></g>
<g id="c-car"><circle class="G" cx="155" cy="583" r="2"/><text x="155" y="584.6" font-size="4.5">Central African Republic</text></g>
<g id="c-belgium"><circle class="G" cx="210" cy="587" r="3.5"/><text x="210" y="589.5" font-size="7" class="b">Belgium</text></g>
<g id="c-cyprus"><circle class="T" cx="265" cy="584" r="2.5"/><text x="265" y="586" font-size="5.5">Cyprus</text></g>
<g id="c-ireland"><circle class="T" cx="271" cy="591" r="2.5"/><text x="271" y="592.7">Ireland</text></g>
<g id="c-tanzania"><circle class="O" cx="57" cy="592" r="2.5"/><text x="57" y="593.7">Tanzania</text></g>
<g id="c-switzerland"><circle class="O" cx="120" cy="595" r="3.5"/><text x="120" y="598" font-size="8.5" class="b">Switzerland</text></g>
<g id="c-germany"><circle class="G" cx="237" cy="600" r="6"/><text x="237" y="604.4" font-size="12.5" class="b">Germany</text></g>
<g id="c-mozambique"><circle class="G" cx="173" cy="596" r="2"/><text x="173" y="597.7">Mozambique</text></g>
<g id="c-sierra"><circle class="G" cx="165" cy="603" r="2.5"/><text x="165" y="604.7">Sierra Leone</text></g>
<g id="c-mauritius"><circle class="T" cx="285" cy="600" r="2.5"/><text x="285" y="601.7">Mauritius</text></g>
<g id="c-namibia"><circle class="O" cx="73" cy="611" r="2.5"/><text x="73" y="612.7">Namibia</text></g>
<g id="c-ghana"><circle class="O" cx="135" cy="611" r="3"/><text x="135" y="613" font-size="5.5">Ghana</text></g>
<g id="c-uzbekistan"><circle class="R" cx="183" cy="610" r="2"/><text x="183" y="611.7">Uzbekistan</text></g>
<g id="c-southafrica"><circle class="O" cx="32" cy="622" r="3.5"/><text x="32" y="624.5" font-size="7" class="b">South Africa</text></g>
<g id="c-bvi"><circle class="O" cx="117" cy="619" r="2"/><text x="117" y="620.7">British Virgin Islands</text></g>
<g id="c-bolivia"><circle class="G" cx="192" cy="617" r="2"/><text x="192" y="618.7">Bolivia</text></g>
<g id="c-ethiopia"><circle class="G" cx="158" cy="618" r="2.5"/><text x="158" y="619.7">Ethiopia</text></g>
<g id="c-sweden"><circle class="T" cx="265" cy="616" r="2.5"/><text x="265" y="617.7">Sweden</text></g>
<g id="c-saintlucia"><circle class="T" cx="293" cy="620" r="2.5"/><text x="293" y="621.7">Saint Lucia</text></g>
<g id="c-botswana"><circle class="T" cx="290" cy="627" r="2"/><text x="290" y="628.7">Botswana</text></g>
<g id="c-wallis"><circle class="V" cx="227" cy="623" r="2"/><text x="227" y="624.8" font-size="5">Walls and Futuna Islands</text></g>
<g id="c-rwanda"><circle class="O" cx="123" cy="626" r="2.5"/><text x="123" y="627.7">Rwanda</text></g>
<g id="c-norway"><circle class="T" cx="253" cy="629" r="2.5"/><text x="253" y="630.7">Norway</text></g>
<g id="c-uganda"><circle class="O" cx="57" cy="633" r="2.5"/><text x="57" y="634.7">Uganda</text></g>
<g id="c-niue"><circle class="G" cx="293" cy="635" r="2.5"/><text x="293" y="636.7">Niue</text></g>
<g id="c-uk"><circle class="T" cx="270" cy="637" r="5"/><text x="270" y="641.2" font-size="12" class="b">UK</text></g>
<g id="c-gambia"><circle class="O" cx="87" cy="637" r="2.5"/><text x="87" y="638.7">Gambia</text></g>
<g id="c-suriname"><circle class="V" cx="192" cy="637" r="2"/><text x="192" y="638.7">Suriname</text></g>
<g id="c-pitcairn"><circle class="V" cx="226" cy="639" r="3"/><text x="226" y="641.3" font-size="6.5" class="b">Pitcairn</text></g>
<g id="c-israel"><circle class="V" cx="252" cy="639" r="2"/><text x="252" y="640.7">Israel</text></g>
<g id="c-kuwait"><circle class="B" cx="106" cy="645" r="2.5"/><text x="106" y="646.7">Kuwait</text></g>
<g id="c-taipei"><circle class="B" cx="88" cy="649" r="2.5"/><text x="88" y="650.7">Taipei</text></g>
<g id="c-mauritania"><circle class="B" cx="128" cy="650" r="2.5"/><text x="128" y="651.7">Mauritania</text></g>
<g id="c-stpierre"><circle class="V" cx="227" cy="650" r="2"/><text x="227" y="652" font-size="5.5">St. Pierre and Miquelon</text></g>
<g id="c-stvincent"><circle class="T" cx="333" cy="653" r="2.5"/><text x="341" y="655" font-size="5.5">Saint Vincent and the Grenadines</text></g>
<g id="c-saudi"><circle class="B" cx="61" cy="658" r="3"/><text x="61" y="660.1" font-size="6">Saudi Arabia</text></g>
<g id="c-sudan"><circle class="B" cx="97" cy="663" r="2"/><text x="97" y="664.7">Sudan</text></g>
<g id="c-amsamoa"><circle class="K" cx="120" cy="658" r="2.5"/><text x="120" y="660" font-size="5.5">American Samoa</text></g>
<g id="c-myanmar"><circle class="B" cx="164" cy="661" r="2"/><text x="164" y="662.7">Myanmar</text></g>
<g id="c-somalia"><circle class="B" cx="73" cy="669" r="2.5"/><text x="73" y="670.7">Somalia</text></g>
<g id="c-hongkong"><circle class="B" cx="126" cy="670" r="3"/><text x="126" y="672.3" font-size="6.5" class="b">Hong Kong</text></g>
<g id="c-tokelau"><circle class="V" cx="182" cy="669" r="2.5"/><text x="182" y="671" font-size="5.5">Tokelau</text></g>
<g id="c-bouvet"><circle class="V" cx="230" cy="665" r="2.5"/><text x="230" y="666.7">Bouvet Island</text></g>
<g id="c-guyana"><circle class="V" cx="263" cy="664" r="2"/><text x="263" y="665.7">Guyana</text></g>
<g id="c-montserrat"><circle class="V" cx="293" cy="669" r="2.5"/><text x="293" y="670.7">Montserrat</text></g>
<g id="c-jamaica"><circle class="V" cx="208" cy="675" r="2"/><text x="208" y="676.7">Jamaica</text></g>
<g id="c-bangladesh"><circle class="V" cx="230" cy="672" r="2"/><text x="230" y="673.7">Bangladesh</text></g>
<g id="c-china"><circle class="B" cx="98" cy="679" r="7"/><text x="98" y="683.6" font-size="13" class="b">China</text></g>
<g id="c-curacao"><circle class="V" cx="150" cy="682" r="2"/><text x="150" y="683.7">Curacao</text></g>
<g id="c-bahamas"><circle class="V" cx="185" cy="677" r="2"/><text x="185" y="678.7">Bahamas</text></g>
<g id="c-thailand"><circle class="B" cx="177" cy="684" r="3"/><text x="177" y="686.1" font-size="6">Thailand</text></g>
<g id="c-norfolk"><circle class="V" cx="227" cy="682" r="3"/><text x="227" y="684.3" font-size="6.5">Norfolk Island</text></g>
<g id="c-india"><circle class="V" cx="300" cy="681" r="4"/><text x="300" y="684" font-size="8.5" class="b">India</text></g>
<g id="c-sintmaarten"><circle class="V" cx="278" cy="689" r="2"/><text x="278" y="690.7">Sint Maarten (Dutch part)</text></g>
<g id="c-srilanka"><circle class="V" cx="278" cy="696" r="2"/><text x="278" y="697.7">Sri Lanka</text></g>
<g id="c-turks"><circle class="V" cx="180" cy="690" r="2"/><text x="180" y="691.4" font-size="4">Turks and Caicos Islands</text></g>
<g id="c-costarica"><circle class="V" cx="170" cy="698" r="2"/><text x="170" y="699.7">Costa Rica</text></g>
<g id="c-laos"><circle class="B" cx="148" cy="698" r="2"/><text x="148" y="699.7">Laos</text></g>
<g id="c-canada"><circle class="V" cx="247" cy="697" r="2.5"/><text x="247" y="699" font-size="5.5">Canada</text></g>
<g id="c-uae"><circle class="B" cx="61" cy="699" r="3"/><text x="61" y="701.5" font-size="7" class="b">UAE</text></g>
<g id="c-benin"><circle class="B" cx="77" cy="695" r="2.5"/><text x="77" y="696.7">Benin</text></g>
<g id="c-brunei"><circle class="B" cx="107" cy="695" r="2"/><text x="107" y="696.6" font-size="4.5">Brunei Darussalam</text></g>
<g id="c-nauru"><circle class="B" cx="98" cy="702" r="2.5"/><text x="98" y="703.7">Nauru</text></g>
<g id="c-seychelles"><circle class="B" cx="78" cy="708" r="2.5"/><text x="78" y="709.7">Seychelles</text></g>
<g id="c-algeria"><circle class="V" cx="183" cy="708" r="2"/><text x="183" y="709.7">Algeria</text></g>
<g id="c-nicaragua"><circle class="V" cx="225" cy="705" r="2"/><text x="225" y="706.7">Nicaragua</text></g>
<g id="c-bermuda"><circle class="V" cx="227" cy="711" r="2"/><text x="227" y="712.7">Bermuda</text></g>
<g id="c-peru"><circle class="V" cx="247" cy="708" r="2"/><text x="247" y="709.7">Peru</text></g>
<g id="c-haiti"><circle class="V" cx="273" cy="713" r="2"/><text x="273" y="714.7">Haiti</text></g>
<g id="c-angola"><circle class="B" cx="177" cy="717" r="3"/><text x="177" y="719" font-size="5.5">Angola</text></g>
<g id="c-yemen"><circle class="B" cx="97" cy="717" r="2.5"/><text x="97" y="718.7">Yemen</text></g>
<g id="c-node1"><circle class="K" cx="123" cy="717" r="2.5"/></g>
<g id="c-frpoly"><circle class="B" cx="108" cy="723" r="2"/><text x="108" y="724.7">French Polynesia</text></g>
<g id="c-fiji"><circle class="K" cx="76" cy="728" r="2.5"/><text x="76" y="729.7">Fiji</text></g>
<g id="c-japan"><circle class="K" cx="149" cy="735" r="5"/><text x="149" y="738" font-size="8.5" class="b">Japan</text></g>
<g id="c-usa"><circle class="V" cx="217" cy="737" r="9"/><text x="217" y="746" class="usa" textLength="40" lengthAdjust="spacingAndGlyphs">USA</text></g>
<g id="c-dominica"><circle class="V" cx="262" cy="722" r="2.5"/><text x="262" y="724" font-size="5.5">Dominica</text></g>
<g id="c-skn"><circle class="V" cx="308" cy="723" r="2"/><text x="308" y="724.7">Saint Kitts and Nevis</text></g>
<g id="c-cambodia"><circle class="V" cx="258" cy="730" r="2"/><text x="258" y="731.7">Cambodia</text></g>
<g id="c-anguilla"><circle class="V" cx="285" cy="730" r="2"/><text x="285" y="731.7">Anguilla</text></g>
<g id="c-newzealand"><circle class="K" cx="102" cy="737" r="2.5"/><text x="102" y="738.7">New Zealand</text></g>
<g id="c-png"><circle class="K" cx="70" cy="743" r="2"/><text x="70" y="744.7">Papua New Guinea</text></g>
<g id="c-indonesia"><circle class="K" cx="127" cy="745" r="3"/><text x="127" y="747" font-size="5.5">Indonesia</text></g>
<g id="c-kiribati"><circle class="K" cx="97" cy="749" r="2.5"/><text x="97" y="750.7">Kiribati</text></g>
<g id="c-eqguinea"><circle class="V" cx="295" cy="750" r="2.5"/><text x="295" y="751.7">Equatorial Guinea</text></g>
<g id="c-gabon"><circle class="V" cx="193" cy="755" r="2"/><text x="193" y="756.7">Gabon</text></g>
<g id="c-oman"><circle class="K" cx="149" cy="757" r="2"/><text x="149" y="758.7">Oman</text></g>
<g id="c-nmi"><circle class="B" cx="95" cy="758" r="2.5"/><text x="95" y="760" font-size="5.5">Northern Mariana Islands</text></g>
<g id="c-nigeria"><circle class="V" cx="255" cy="759" r="3"/><text x="255" y="761.3" font-size="6.5" class="b">Nigeria</text></g>
<g id="c-tonga"><circle class="K" cx="105" cy="765" r="2.5"/><text x="105" y="766.7">Tonga</text></g>
<g id="c-singapore"><circle class="K" cx="138" cy="767" r="3.5"/><text x="138" y="769.3" font-size="6.5" class="b">Singapore</text></g>
<g id="c-australia"><circle class="K" cx="76" cy="772" r="3.5"/><text x="76" y="774.3" font-size="6.5" class="b">Australia</text></g>
<g id="c-trinidad"><circle class="V" cx="166" cy="776" r="2.5"/><text x="166" y="777.7">Trinidad and Tobago</text></g>
<g id="c-usmoi"><circle class="K" cx="274" cy="780" r="3"/><text x="275" y="782.3" font-size="6.5">United States Minor Outlying Islands</text></g>
<g id="c-wsahara"><circle class="V" cx="177" cy="789" r="2.5"/><text x="177" y="791.1" font-size="6">Western Sahara</text></g>
<g id="c-mexico"><circle class="V" cx="224" cy="789" r="2"/><text x="224" y="790.7">Mexico</text></g>
<g id="c-venezuela"><circle class="V" cx="253" cy="789" r="2"/><text x="253" y="790.7">Venezuela</text></g>
<g id="c-vanuatu"><circle class="K" cx="168" cy="796" r="2"/><text x="168" y="797.7">Vanuatu</text></g>
<g id="c-christmas"><circle class="K" cx="107" cy="798" r="2.5"/><text x="107" y="799.7">Christmas Island</text></g>
<g id="c-brazil"><circle class="K" cx="140" cy="800" r="2.5"/><text x="140" y="802.1" font-size="6">Brazil</text></g>
<g id="c-barbados"><circle class="V" cx="203" cy="795" r="2"/><text x="203" y="796.7">Barbados</text></g>
<g id="c-micronesia"><circle class="K" cx="164" cy="806" r="2.5"/><text x="164" y="807.7">Micronesia</text></g>
<g id="c-malaysia"><circle class="K" cx="197" cy="805" r="3"/><text x="197" y="807.1" font-size="6">Malaysia</text></g>
<g id="c-cocos"><circle class="V" cx="262" cy="803" r="3"/><text x="261" y="805.3" font-size="6.5">Cocos (Keeling) Islands</text></g>
</g>

<g id="panel-2016-2018">
<g id="d-caboverde"><circle class="P" cx="509" cy="476" r="2"/><text x="509" y="477.7">Cabo Verde</text></g>
<g id="d-tunisia"><circle class="P" cx="545" cy="476" r="2"/><text x="545" y="477.7">Tunisia</text></g>
<g id="d-malawi"><circle class="G" cx="567" cy="481" r="2.5"/><text x="567" y="482.7">Malawi</text></g>
<g id="d-georgia"><circle class="G" cx="605" cy="478" r="2.5"/><text x="605" y="479.7">Georgia</text></g>
<g id="d-morocco"><circle class="P" cx="578" cy="488" r="2.5"/><text x="578" y="489.7">Morocco</text></g>
<g id="d-latvia"><circle class="G" cx="597" cy="484" r="2"/><text x="597" y="485.7">Latvia</text></g>
<g id="d-cayman"><circle class="P" cx="508" cy="485" r="2.5"/><text x="508" y="487" font-size="5.5">Cayman Islands</text></g>
<g id="d-egypt"><circle class="G" cx="599" cy="493" r="2.5"/><text x="599" y="494.7">Egypt</text></g>
<g id="d-gibraltar"><circle class="P" cx="509" cy="494" r="2.5"/><text x="509" y="495.7">Gibraltar</text></g>
<g id="d-france"><circle class="P" cx="569" cy="500" r="5"/><text x="569" y="503.3" font-size="9.5" class="b">France</text></g>
<g id="d-falkland"><circle class="P" cx="508" cy="502" r="2"/><text x="508" y="503.6" font-size="4.5">Falkland Islands (Malvinas)</text></g>
<g id="d-albania"><circle class="G" cx="598" cy="498" r="2"/><text x="598" y="499.7">Albania</text></g>
<g id="d-macedonia"><circle class="G" cx="605" cy="506" r="2.5"/><text x="605" y="507.7">Macedonia</text></g>
<g id="d-libya"><circle class="G" cx="631" cy="506" r="2.5"/><text x="631" y="507.7">Libya</text></g>
<g id="d-cameroon"><circle class="P" cx="485" cy="510" r="2.5"/><text x="485" y="511.7">Cameroon</text></g>
<g id="d-spain"><circle class="P" cx="512" cy="510" r="4"/><text x="512" y="512.5" font-size="7" class="b">Spain</text></g>
<g id="d-niger"><circle class="P" cx="542" cy="511" r="2.5"/><text x="542" y="512.7">Niger</text></g>
<g id="d-bulgaria"><circle class="G" cx="593" cy="512" r="2.5"/><text x="593" y="513.7">Bulgaria</text></g>
<g id="d-italy"><circle class="G" cx="625" cy="514" r="4.5"/><text x="625" y="516.8" font-size="8" class="b">Italy</text></g>
<g id="d-azerbaijan"><circle class="G" cx="653" cy="512" r="2.5"/><text x="653" y="513.7">Azerbaijan</text></g>
<g id="d-marshall"><circle class="G" cx="555" cy="518" r="3"/><text x="555" y="520" font-size="5.5">Marshall Islands</text></g>
<g id="d-madagascar"><circle class="P" cx="603" cy="525" r="2.5"/><text x="603" y="526.7">Madagascar</text></g>
<g id="d-moldova"><circle class="G" cx="622" cy="530" r="2"/><text x="622" y="531.7">Moldova</text></g>
<g id="d-saotome"><circle class="G" cx="450" cy="538" r="2.5"/><text x="450" y="539.7">Sao Tome and Principe</text></g>
<g id="d-portugal"><circle class="P" cx="503" cy="533" r="3"/><text x="503" y="535" font-size="5.5">Portugal</text></g>
<g id="d-bosnia"><circle class="G" cx="558" cy="532" r="2.5"/><text x="558" y="533.7">Bosnia and Herzegovina</text></g>
<g id="d-serbia"><circle class="G" cx="605" cy="536" r="2.5"/><text x="605" y="538" font-size="5.5">Serbia</text></g>
<g id="d-croatia"><circle class="G" cx="637" cy="537" r="2.5"/><text x="637" y="538.7">Croatia</text></g>
<g id="d-andorra"><circle class="P" cx="502" cy="540" r="2"/><text x="502" y="541.7">Andorra</text></g>
<g id="d-ukraine"><circle class="G" cx="547" cy="538" r="2"/><text x="547" y="539.7">Ukraine</text></g>
<g id="d-turkmenistan"><circle class="G" cx="570" cy="537" r="2"/><text x="570" y="538.7">Turkmenistan</text></g>
<g id="d-senegal"><circle class="O" cx="465" cy="546" r="2.5"/><text x="465" y="547.7">Senegal</text></g>
<g id="d-lithuania"><circle class="R" cx="515" cy="545" r="2"/><text x="515" y="546.7">Lithuania</text></g>
<g id="d-russia"><circle class="R" cx="543" cy="547" r="3"/><text x="543" y="549.3" font-size="6.5" class="b">Russia</text></g>
<g id="d-montenegro"><circle class="G" cx="613" cy="544" r="2.5"/><text x="613" y="545.7">Montenegro</text></g>
<g id="d-tajikistan"><circle class="G" cx="655" cy="544" r="2"/><text x="655" y="545.7">Tajikistan</text></g>
<g id="d-mali"><circle class="O" cx="454" cy="553" r="2.5"/><text x="454" y="554.7">Mali</text></g>
<g id="d-lebanon"><circle class="O" cx="493" cy="552" r="3"/><text x="493" y="554.1" font-size="6">Lebanon</text></g>
<g id="d-romania"><circle class="G" cx="523" cy="553" r="2"/><text x="523" y="554.7">Romania</text></g>
<g id="d-kazakhstan"><circle class="G" cx="623" cy="549" r="2.5"/><text x="623" y="551" font-size="5.5">Kazakhstan</text></g>
<g id="d-turkey"><circle class="G" cx="583" cy="552" r="2.5"/><text x="583" y="554" font-size="5.5">Turkey</text></g>
<g id="d-austria"><circle class="G" cx="647" cy="553" r="2"/><text x="647" y="554.7">Austria</text></g>
<g id="d-greece"><circle class="G" cx="673" cy="558" r="2.5"/><text x="673" y="559.7">Greece</text></g>
<g id="d-kyrgyzstan"><circle class="O" cx="463" cy="562" r="2.5"/><text x="463" y="563.7">Kyrgyzstan</text></g>
<g id="d-burkina"><circle class="O" cx="502" cy="560" r="2.5"/><text x="502" y="561.7">Burkina Faso</text></g>
<g id="d-togo"><circle class="O" cx="493" cy="568" r="3"/><text x="493" y="570.3" font-size="6.5">Togo</text></g>
<g id="d-armenia"><circle class="R" cx="512" cy="565" r="2"/><text x="512" y="566.7">Armenia</text></g>
<g id="d-iceland"><circle class="G" cx="533" cy="560" r="2"/><text x="533" y="561.7">Iceland</text></g>
<g id="d-poland"><circle class="G" cx="566" cy="559" r="2.5"/><text x="566" y="561" font-size="5.5">Poland</text></g>
<g id="d-netherlands"><circle class="G" cx="608" cy="562" r="4.5"/><text x="608" y="565" font-size="8.5" class="b">Netherlands</text></g>
<g id="d-estonia"><circle class="T" cx="660" cy="563" r="2"/><text x="660" y="564.7">Estonia</text></g>
<g id="d-czech"><circle class="G" cx="560" cy="565" r="2"/><text x="560" y="566.7">Czech Republic</text></g>
<g id="d-slovakia"><circle class="T" cx="653" cy="569" r="2"/><text x="653" y="570.7">Slovakia</text></g>
<g id="d-cote"><circle class="G" cx="530" cy="572" r="3"/><text x="530" y="574.1" font-size="6">Cote d'Ivoire</text></g>
<g id="d-luxembourg"><circle class="G" cx="592" cy="573" r="2.5"/><text x="592" y="574.7">Luxembourg</text></g>
<g id="d-denmark"><circle class="G" cx="627" cy="574" r="2.5"/><text x="627" y="575.7">Denmark</text></g>
<g id="d-zambia"><circle class="O" cx="487" cy="577" r="2.5"/><text x="487" y="579" font-size="5.5">Zambia</text></g>
<g id="d-car"><circle class="R" cx="538" cy="580" r="2"/><text x="538" y="581.6" font-size="4.5">Central African Republic</text></g>
<g id="d-tanzania"><circle class="O" cx="433" cy="588" r="2.5"/><text x="433" y="589.7">Tanzania</text></g>
<g id="d-lesotho"><circle class="O" cx="463" cy="583" r="2"/><text x="463" y="584.7">Lesotho</text></g>
<g id="d-belgium"><circle class="G" cx="590" cy="585" r="3.5"/><text x="590" y="587.6" font-size="7.5" class="b">Belgium</text></g>
<g id="d-malta"><circle class="G" cx="638" cy="587" r="2"/><text x="638" y="588.7">Malta</text></g>
<g id="d-cyprus"><circle class="T" cx="648" cy="581" r="2"/><text x="648" y="582.7">Cyprus</text></g>
<g id="d-ireland"><circle class="T" cx="655" cy="587" r="2"/><text x="655" y="588.7">Ireland</text></g>
<g id="d-switzerland"><circle class="O" cx="504" cy="592" r="4"/><text x="504" y="595" font-size="8.5" class="b">Switzerland</text></g>
<g id="d-mozambique"><circle class="G" cx="557" cy="593" r="2"/><text x="557" y="594.7">Mozambique</text></g>
<g id="d-germany"><circle class="G" cx="620" cy="597" r="6.5"/><text x="620" y="601.6" font-size="13" class="b">Germany</text></g>
<g id="d-zimbabwe"><circle class="O" cx="488" cy="602" r="2.5"/><text x="488" y="603.7">Zimbabwe</text></g>
<g id="d-sierra"><circle class="G" cx="550" cy="600" r="2"/><text x="550" y="601.7">Sierra Leone</text></g>
<g id="d-mauritius"><circle class="T" cx="668" cy="605" r="2.5"/><text x="668" y="606.7">Mauritius</text></g>
<g id="d-namibia"><circle class="O" cx="457" cy="606" r="2.5"/><text x="457" y="607.7">Namibia</text></g>
<g id="d-ghana"><circle class="O" cx="517" cy="606" r="2.5"/><text x="517" y="608" font-size="5.5">Ghana</text></g>
<g id="d-uzbekistan"><circle class="R" cx="570" cy="605" r="2"/><text x="570" y="606.7">Uzbekistan</text></g>
<g id="d-southafrica"><circle class="O" cx="417" cy="616" r="3.5"/><text x="417" y="618.5" font-size="7" class="b">South Africa</text></g>
<g id="d-eswatini"><circle class="O" cx="458" cy="621" r="2"/><text x="458" y="622.7">Eswatini</text></g>
<g id="d-bvi"><circle class="O" cx="507" cy="615" r="2"/><text x="507" y="616.7">British Virgin Islands</text></g>
<g id="d-rwanda"><circle class="O" cx="508" cy="622" r="2.5"/><text x="508" y="623.7">Rwanda</text></g>
<g id="d-ethiopia"><circle class="G" cx="548" cy="613" r="2.5"/><text x="548" y="614.7">Ethiopia</text></g>
<g id="d-bolivia"><circle class="G" cx="572" cy="612" r="2"/><text x="572" y="613.7">Bolivia</text></g>
<g id="d-wallis"><circle class="V" cx="615" cy="618" r="2"/><text x="615" y="619.8" font-size="5">Walls and Futuna Islands</text></g>
<g id="d-sweden"><circle class="T" cx="654" cy="612" r="2"/><text x="654" y="613.7">Sweden</text></g>
<g id="d-saintlucia"><circle class="T" cx="678" cy="616" r="2"/><text x="678" y="617.7">Saint Lucia</text></g>
<g id="d-botswana"><circle class="T" cx="673" cy="623" r="2"/><text x="673" y="624.7">Botswana</text></g>
<g id="d-kenya"><circle class="O" cx="478" cy="624" r="2.5"/><text x="478" y="625.7">Kenya</text></g>
<g id="d-uganda"><circle class="O" cx="442" cy="628" r="2.5"/><text x="442" y="629.7">Uganda</text></g>
<g id="d-gambia"><circle class="O" cx="470" cy="633" r="3"/><text x="470" y="635" font-size="5.5">Gambia</text></g>
<g id="d-nepal"><circle class="V" cx="618" cy="626" r="2"/><text x="618" y="627.7">Nepal</text></g>
<g id="d-norway"><circle class="T" cx="637" cy="626" r="2.5"/><text x="637" y="627.7">Norway</text></g>
<g id="d-niue"><circle class="G" cx="679" cy="631" r="2.5"/><text x="679" y="632.7">Niue</text></g>
<g id="d-uk"><circle class="T" cx="658" cy="633" r="5"/><text x="658" y="637.2" font-size="12" class="b">UK</text></g>
<g id="d-solomon"><circle class="B" cx="537" cy="634" r="2"/><text x="537" y="635.7">Solomon Islands</text></g>
<g id="d-dprk"><circle class="B" cx="543" cy="629" r="2"/><text x="543" y="630.7">DPR Korea</text></g>
<g id="d-suriname"><circle class="V" cx="578" cy="632" r="2"/><text x="578" y="633.7">Suriname</text></g>
<g id="d-pitcairn"><circle class="V" cx="613" cy="634" r="3"/><text x="613" y="636.1" font-size="6" class="b">Pitcairn</text></g>
<g id="d-southsudan"><circle class="B" cx="555" cy="638" r="2"/><text x="555" y="639.7">South Sudan</text></g>
<g id="d-bahrain"><circle class="B" cx="452" cy="640" r="2"/><text x="452" y="641.7">Bahrain</text></g>
<g id="d-taipei"><circle class="B" cx="467" cy="643" r="2.5"/><text x="467" y="644.7">Taipei</text></g>
<g id="d-kuwait"><circle class="B" cx="493" cy="639" r="2.5"/><text x="493" y="640.7">Kuwait</text></g>
<g id="d-mauritania"><circle class="B" cx="523" cy="643" r="3"/><text x="523" y="645.1" font-size="6">Mauritania</text></g>
<g id="d-dominicanrep"><circle class="V" cx="686" cy="642" r="2"/><text x="686" y="643.7">Dominican Republic</text></g>
<g id="d-stvincent"><circle class="T" cx="722" cy="649" r="2"/><text x="729" y="651" font-size="5.5">Saint Vincent and the Grenadines</text></g>
<g id="d-stpierre"><circle class="V" cx="613" cy="643" r="2.5"/><text x="613" y="645.1" font-size="6">St. Pierre and Miquelon</text></g>
<g id="d-saudi"><circle class="B" cx="445" cy="653" r="3"/><text x="445" y="655.1" font-size="6">Saudi Arabia</text></g>
<g id="d-amsamoa"><circle class="K" cx="503" cy="652" r="2.5"/><text x="503" y="654.1" font-size="6">American Samoa</text></g>
<g id="d-drcongo"><circle class="B" cx="557" cy="649" r="2"/><text x="557" y="650.7">DR Congo</text></g>
<g id="d-elsalvador"><circle class="V" cx="590" cy="653" r="2"/><text x="590" y="654.7">El Salvador</text></g>
<g id="d-israel"><circle class="V" cx="620" cy="652" r="2"/><text x="620" y="653.7">Israel</text></g>
<g id="d-jamaica"><circle class="V" cx="638" cy="652" r="2"/><text x="638" y="653.7">Jamaica</text></g>
<g id="d-burundi"><circle class="B" cx="427" cy="660" r="2"/><text x="427" y="661.7">Burundi</text></g>
<g id="d-sudan"><circle class="B" cx="480" cy="657" r="2"/><text x="480" y="658.7">Sudan</text></g>
<g id="d-myanmar"><circle class="B" cx="550" cy="655" r="2"/><text x="550" y="656.7">Myanmar</text></g>
<g id="d-guyana"><circle class="V" cx="648" cy="657" r="2"/><text x="648" y="658.7">Guyana</text></g>
<g id="d-somalia"><circle class="B" cx="458" cy="664" r="2.5"/><text x="458" y="665.7">Somalia</text></g>
<g id="d-hongkong"><circle class="B" cx="512" cy="665" r="3.5"/><text x="512" y="667.5" font-size="7" class="b">Hong Kong</text></g>
<g id="d-tokelau"><circle class="V" cx="573" cy="663" r="2.5"/><text x="573" y="665.1" font-size="6">Tokelau</text></g>
<g id="d-bouvet"><circle class="V" cx="613" cy="660" r="3"/><text x="613" y="662.3" font-size="6.5">Bouvet Island</text></g>
<g id="d-china"><circle class="B" cx="482" cy="677" r="7"/><text x="482" y="681.6" font-size="13" class="b">China</text></g>
<g id="d-curacao"><circle class="V" cx="533" cy="675" r="2"/><text x="533" y="676.7">Curacao</text></g>
<g id="d-bahamas"><circle class="V" cx="568" cy="672" r="2"/><text x="568" y="673.7">Bahamas</text></g>
<g id="d-thailand"><circle class="B" cx="568" cy="678" r="3"/><text x="568" y="680.1" font-size="6">Thailand</text></g>
<g id="d-norfolk"><circle class="V" cx="617" cy="676" r="3"/><text x="617" y="678.3" font-size="6.5">Norfolk Island</text></g>
<g id="d-guatemala"><circle class="V" cx="647" cy="670" r="2"/><text x="647" y="671.7">Guatemala</text></g>
<g id="d-india"><circle class="V" cx="683" cy="673" r="4"/><text x="683" y="676" font-size="8.5" class="b">India</text></g>
<g id="d-congo"><circle class="B" cx="512" cy="682" r="2"/><text x="512" y="683.7">Congo</text></g>
<g id="d-ecuador"><circle class="V" cx="593" cy="685" r="2"/><text x="593" y="686.7">Ecuador</text></g>
<g id="d-sintmaarten"><circle class="V" cx="663" cy="683" r="2"/><text x="663" y="684.7">Sint Maarten (Dutch part)</text></g>
<g id="d-srilanka"><circle class="V" cx="670" cy="690" r="2"/><text x="670" y="691.7">Sri Lanka</text></g>
<g id="d-canada"><circle class="V" cx="630" cy="690" r="2.5"/><text x="630" y="692" font-size="5.5">Canada</text></g>
<g id="d-uae"><circle class="B" cx="445" cy="692" r="3"/><text x="445" y="694.5" font-size="7" class="b">UAE</text></g>
<g id="d-benin"><circle class="B" cx="464" cy="688" r="2.5"/><text x="464" y="689.7">Benin</text></g>
<g id="d-nauru"><circle class="B" cx="479" cy="695" r="2.5"/><text x="479" y="696.7">Nauru</text></g>
<g id="d-laos"><circle class="B" cx="530" cy="691" r="2"/><text x="530" y="692.7">Laos</text></g>
<g id="d-costarica"><circle class="V" cx="551" cy="691" r="2"/><text x="551" y="692.7">Costa Rica</text></g>
<g id="d-jordan"><circle class="V" cx="572" cy="694" r="2"/><text x="572" y="695.7">Jordan</text></g>
<g id="d-algeria"><circle class="V" cx="580" cy="701" r="2"/><text x="580" y="702.7">Algeria</text></g>
<g id="d-nicaragua"><circle class="V" cx="598" cy="697" r="2"/><text x="598" y="698.7">Nicaragua</text></g>
<g id="d-peru"><circle class="V" cx="633" cy="702" r="2"/><text x="633" y="703.7">Peru</text></g>
<g id="d-guineabissau"><circle class="V" cx="683" cy="700" r="2"/><text x="683" y="701.7">Guinea-Bissau</text></g>
<g id="d-seychelles"><circle class="B" cx="462" cy="702" r="2"/><text x="462" y="703.7">Seychelles</text></g>
<g id="d-oman"><circle class="B" cx="460" cy="708" r="2"/><text x="460" y="709.7">Oman</text></g>
<g id="d-antigua"><circle class="V" cx="527" cy="702" r="2.5"/><text x="527" y="704.1" font-size="6">Antigua and Barbuda</text></g>
<g id="d-angola"><circle class="B" cx="562" cy="710" r="2.5"/><text x="562" y="711.8" font-size="5">Angola</text></g>
<g id="d-haiti"><circle class="V" cx="660" cy="707" r="2"/><text x="660" y="708.7">Haiti</text></g>
<g id="d-dominica"><circle class="V" cx="647" cy="713" r="2.5"/><text x="647" y="715.1" font-size="6">Dominica</text></g>
<g id="d-skn"><circle class="V" cx="692" cy="715" r="2"/><text x="692" y="716.7">Saint Kitts and Nevis</text></g>
<g id="d-brunei"><circle class="K" cx="533" cy="716" r="2"/><text x="533" y="717.7">Brunei Darussalam</text></g>
<g id="d-node1"><circle class="K" cx="508" cy="708" r="2.5"/></g>
<g id="d-fiji"><circle class="K" cx="460" cy="720" r="2.5"/><text x="460" y="721.7">Fiji</text></g>
<g id="d-korea"><circle class="B" cx="505" cy="721" r="2.5"/><text x="505" y="722.7">Korea</text></g>
<g id="d-newzealand"><circle class="K" cx="486" cy="728" r="2.5"/><text x="486" y="729.7">New Zealand</text></g>
<g id="d-japan"><circle class="K" cx="533" cy="725" r="5"/><text x="533" y="728" font-size="8.5" class="b">Japan</text></g>
<g id="d-usa"><circle class="V" cx="598" cy="727" r="9"/><text x="598" y="736" class="usa" textLength="40" lengthAdjust="spacingAndGlyphs">USA</text></g>
<g id="d-cambodia"><circle class="V" cx="643" cy="722" r="2"/><text x="643" y="723.7">Cambodia</text></g>
<g id="d-afghanistan"><circle class="V" cx="657" cy="728" r="2"/><text x="657" y="729.7">Afghanistan</text></g>
<g id="d-kiribati"><circle class="K" cx="482" cy="742" r="2.5"/><text x="482" y="743.7">Kiribati</text></g>
<g id="d-indonesia"><circle class="K" cx="510" cy="737" r="3"/><text x="510" y="739.1" font-size="6">Indonesia</text></g>
<g id="d-sainthelena"><circle class="V" cx="552" cy="741" r="2.5"/><text x="552" y="742.7">Saint Helena</text></g>
<g id="d-eqguinea"><circle class="V" cx="680" cy="742" r="2"/><text x="680" y="743.7">Equatorial Guinea</text></g>
<g id="d-vietnam"><circle class="V" cx="630" cy="740" r="2"/><text x="630" y="741.7">Viet Nam</text></g>
<g id="d-panama"><circle class="V" cx="672" cy="749" r="2"/><text x="672" y="750.7">Panama</text></g>
<g id="d-nigeria"><circle class="V" cx="641" cy="752" r="3"/><text x="641" y="754.3" font-size="6.5" class="b">Nigeria</text></g>
<g id="d-aruba"><circle class="V" cx="606" cy="750" r="2"/><text x="606" y="751.7">Aruba</text></g>
<g id="d-maldives"><circle class="B" cx="612" cy="756" r="2.5"/><text x="612" y="757.7">Maldives</text></g>
<g id="d-nmi"><circle class="B" cx="477" cy="749" r="2.5"/><text x="477" y="751" font-size="5.5">Northern Mariana Islands</text></g>
<g id="d-philippines"><circle class="K" cx="559" cy="754" r="2.5"/><text x="559" y="755.7">Philippines</text></g>
<g id="d-singapore"><circle class="K" cx="522" cy="758" r="3.5"/><text x="522" y="760.5" font-size="7" class="b">Singapore</text></g>
<g id="d-pakistan"><circle class="V" cx="595" cy="762" r="2"/><text x="595" y="763.7">Pakistan</text></g>
<g id="d-australia"><circle class="K" cx="460" cy="763" r="3"/><text x="460" y="765.1" font-size="6">Australia</text></g>
<g id="d-tonga"><circle class="K" cx="481" cy="773" r="2.5"/><text x="481" y="774.7">Tonga</text></g>
<g id="d-paraguay"><circle class="K" cx="513" cy="775" r="2"/><text x="513" y="776.7">Paraguay</text></g>
<g id="d-argentina"><circle class="R" cx="518" cy="781" r="2"/><text x="518" y="782.7">Argentina</text></g>
<g id="d-usmoi"><circle class="K" cx="658" cy="771" r="3.5"/><text x="659" y="773.3" font-size="6.5">United States Minor Outlying Islands</text></g>
<g id="d-wsahara"><circle class="V" cx="561" cy="779" r="2.5"/><text x="561" y="781" font-size="5.5">Western Sahara</text></g>
<g id="d-mexico"><circle class="V" cx="608" cy="779" r="2"/><text x="608" y="780.7">Mexico</text></g>
<g id="d-barbados"><circle class="V" cx="587" cy="785" r="2"/><text x="587" y="786.7">Barbados</text></g>
<g id="d-chad"><circle class="V" cx="650" cy="784" r="2.5"/><text x="650" y="785.7">Chad</text></g>
<g id="d-christmas"><circle class="K" cx="491" cy="787" r="2"/><text x="491" y="788.7">Christmas Island</text></g>
<g id="d-brazil"><circle class="K" cx="529" cy="788" r="3"/><text x="529" y="790.5" font-size="7">Brazil</text></g>
<g id="d-uruguay"><circle class="R" cx="513" cy="796" r="2"/><text x="513" y="797.7">Uruguay</text></g>
<g id="d-malaysia"><circle class="K" cx="580" cy="795" r="3"/><text x="580" y="797.1" font-size="6">Malaysia</text></g>
<g id="d-cocos"><circle class="V" cx="644" cy="793" r="3"/><text x="645" y="795.3" font-size="6.5">Cocos (Keeling) Islands</text></g>
<g id="d-timorleste"><circle class="K" cx="535" cy="803" r="2"/><text x="535" y="804.7">Timor-Leste</text></g>
<g id="d-palau"><circle class="K" cx="559" cy="802" r="2"/><text x="559" y="803.7">Palau</text></g>
</g>

<g id="captions">
<text class="cap" x="186" y="440">2001~2005년</text>
<text class="cap" x="569" y="440">2006~2010년</text>
<text class="cap" x="186" y="872">2011~2015년</text>
<text class="cap" x="569" y="872">2016~2018년</text>
</g>
</svg>
